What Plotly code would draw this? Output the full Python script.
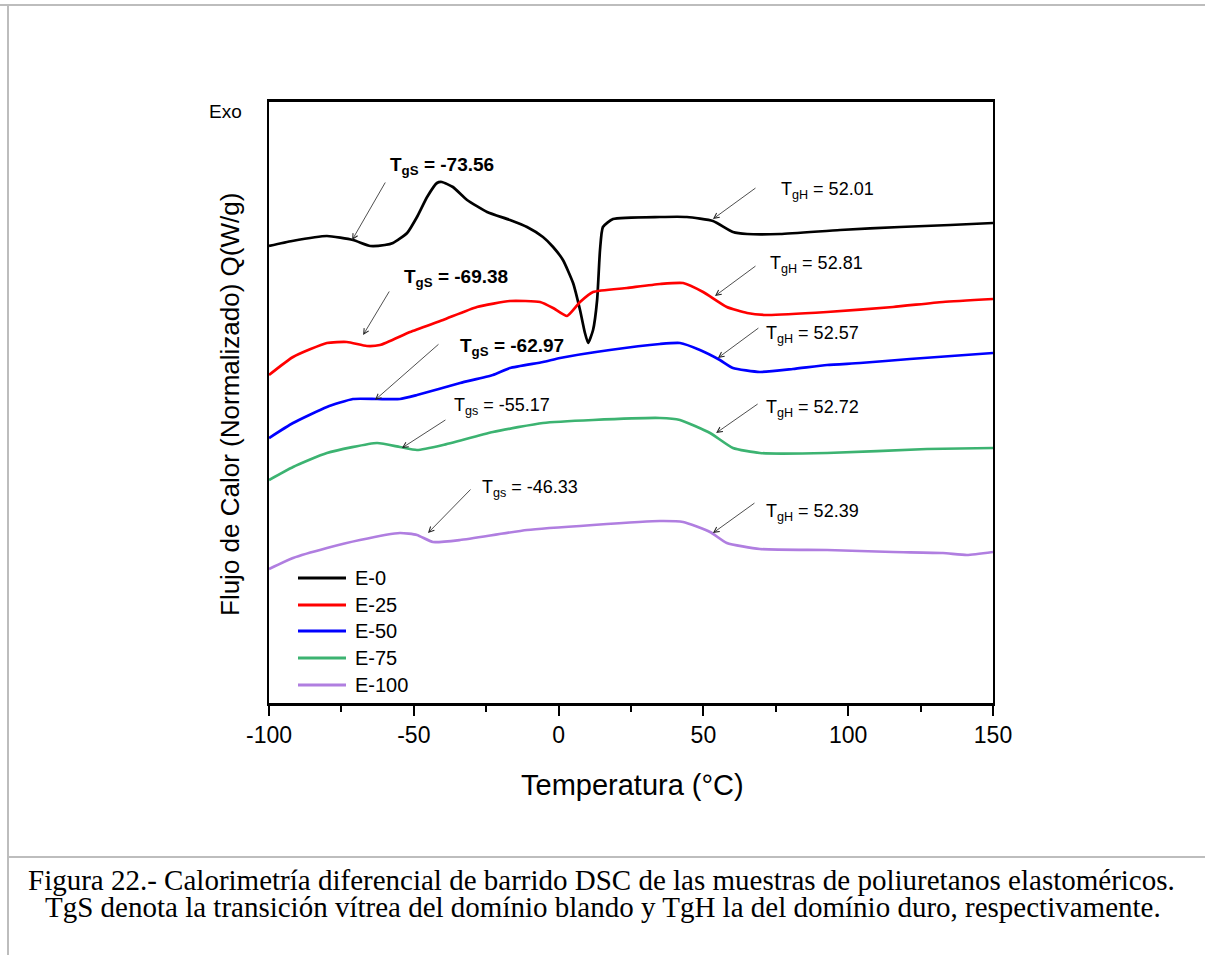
import plotly.graph_objects as go

# ---------------- data ----------------
series_names = ["E-0", "E-25", "E-50", "E-75", "E-100"]
series_colors = ["#000000", "#ff0000", "#0000ff", "#3cb371", "#b07ee0"]

T_E0 = [-100, -92, -80, -71, -65, -60, -57.2, -52.3, -48.9, -45.4, -42, -40.3, -36.5, -31.6,
        -24.7, -16.8, -10.9, -5.4, -1.9, 1.5, 5, 7.4, 9.1, 10.2, 11.9, 13.3, 14.3, 15.3, 18.8,
        35, 44.3, 53.3, 60.2, 65.1, 76.5, 97.2, 117.9, 135.2, 150]
Q_E0 = [457, 462, 467, 463, 457, 458, 460, 470, 486, 506, 520, 521, 516, 503,
        491, 483, 476, 466, 456, 443, 420, 393, 370, 360, 373, 403, 453, 476, 484,
        486, 486, 482, 471, 469, 469, 473, 476, 478, 480]

T_E25 = [-100, -91.7, -80, -73.1, -66.2, -61.7, -51.3, -39.9, -28.2, -16.8, -6.4, -1.9, 2.9,
         7.4, 11.9, 23.6, 35, 43, 49.9, 58.1, 65.1, 72, 92.7, 115.5, 132.7, 150]
Q_E25 = [328, 346, 360, 361, 357, 358, 371, 383, 396, 402, 401, 395, 387,
         401, 411, 415, 419, 420, 411, 396, 390, 388, 391, 396, 401, 404]

T_E50 = [-100, -91.7, -80, -71, -62.7, -54.8, -48.9, -34, -22.7, -16.8, -5.4, 0.5, 17.7, 35,
         41.9, 48.8, 55.7, 60.2, 69.5, 80.9, 92.7, 104.1, 121.3, 150]
Q_E50 = [265, 280, 296, 304, 304, 304, 308, 320, 328, 335, 341, 345, 353, 359,
         360, 353, 343, 335, 331, 334, 338, 340, 344, 350]

T_E75 = [-100, -91.7, -80, -62.7, -54.8, -48.9, -39.9, -22.7, -5.4, 11.9, 35, 41.9, 52.3,
         60.2, 69.5, 92.7, 127.2, 150]
Q_E75 = [223, 236, 250, 260, 256, 253, 258, 271, 280, 283, 285, 283, 270,
         255, 250, 250, 254, 255]

T_E100 = [-100, -91.7, -80, -68.6, -54.8, -48.9, -43.4, -34, -10.9, 11.9, 35, 43, 52.3, 58.1,
          69.5, 92.7, 115.5, 132.7, 141, 150]
Q_E100 = [134, 145, 155, 163, 170, 168, 161, 163, 173, 178, 182, 181, 171, 160,
          154, 153, 151, 150, 148, 151]

T_all = [T_E0, T_E25, T_E50, T_E75, T_E100]
Q_all = [Q_E0, Q_E25, Q_E50, Q_E75, Q_E100]

tgs_values = ["-73.56", "-69.38", "-62.97", "-55.17", "-46.33"]
tgh_values = ["52.01", "52.81", "52.57", "52.72", "52.39"]

x_ticks = [-100, -50, 0, 50, 100, 150]

# ---------------- figure ----------------
FONT = "Arial, 'Liberation Sans', sans-serif"
SERIF = "'Times New Roman', 'Liberation Serif', serif"

fig = go.Figure()
for name, color, T, Q in zip(series_names, series_colors, T_all, Q_all):
    fig.add_trace(go.Scatter(x=T, y=Q, mode="lines", name=name,
                             line=dict(color=color, width=2.7, shape="spline", smoothing=0.5),
                             showlegend=False, hoverinfo="skip"))

# plot area in pixels: left 269, right 993, top 102, bottom 703
L, R, TOP, BOT = 269, 993, 102, 703
def px(x):
    return (x - L) / (R - L)
def py(y):
    return (BOT - y) / (BOT - TOP)

annotations = []

# arrow annotations: (x tip, y tip, ax, ay)
tgs_arrows = [(-71.3, 463, 34, -59), (-67.5, 368, 27, -45), (-63.4, 303, 65, -57),
              (-54.1, 255, 45, -29), (-45.1, 170, 44, -45)]
tgh_arrows = [(53.3, 484, 44, -32), (54.0, 407, 42, -31), (55.0, 345, 42, -31),
              (54.4, 270, 43, -30), (53.3, 170, 43, -31)]
for (x, y, ax, ay) in tgs_arrows + tgh_arrows:
    annotations.append(dict(x=x, y=y, xref="x", yref="y", ax=ax, ay=ay, text="",
                            showarrow=True, arrowhead=5, arrowsize=1.3, arrowwidth=0.8,
                            arrowcolor="#222222"))

tgs_text_pos = [(-40.3, 537), (-35.4, 425), (-16.1, 356), (-19.5, 297), (-9.9, 215)]
for i, (val, (x, y)) in enumerate(zip(tgs_values, tgs_text_pos)):
    if i < 3:
        txt = "<b>T<sub>gS</sub> = " + val + "</b>"
        size = 19
    else:
        txt = "T<sub>gs</sub> = " + val
        size = 18
    annotations.append(dict(x=x, y=y, xref="x", yref="y", text=txt, showarrow=False,
                            xanchor="center", yanchor="middle",
                            font=dict(family=FONT, size=size, color="black")))

tgh_text_pos = [(92.7, 513), (89.2, 439), (87.5, 369), (87.5, 295), (87.5, 191)]
for val, (x, y) in zip(tgh_values, tgh_text_pos):
    annotations.append(dict(x=x, y=y, xref="x", yref="y",
                            text="T<sub>gH</sub> = " + val, showarrow=False,
                            xanchor="center", yanchor="middle",
                            font=dict(family=FONT, size=18, color="black")))

# manual legend
legend_y = [578, 605, 631, 658, 685]
shapes = []
for name, color, ly in zip(series_names, series_colors, legend_y):
    shapes.append(dict(type="line", xref="paper", yref="paper",
                       x0=px(298), x1=px(346), y0=py(ly), y1=py(ly),
                       line=dict(color=color, width=3)))
    annotations.append(dict(x=px(353), y=py(ly), xref="paper", yref="paper",
                            xanchor="left", yanchor="middle", text=name, showarrow=False,
                            font=dict(family=FONT, size=20, color="black")))

# axis titles and extra labels
annotations.append(dict(x=px(632), y=py(785), xref="paper", yref="paper",
                        xanchor="center", yanchor="middle",
                        text="Temperatura (°C)", showarrow=False,
                        font=dict(family=FONT, size=29, color="black")))
annotations.append(dict(x=px(230), y=py(405), xref="paper", yref="paper",
                        xanchor="center", yanchor="middle",
                        text="Flujo de Calor (Normalizado) Q(W/g)", textangle=-90,
                        showarrow=False, font=dict(family=FONT, size=26, color="black")))
annotations.append(dict(x=px(225), y=py(112), xref="paper", yref="paper",
                        xanchor="center", yanchor="middle",
                        text="Exo", showarrow=False,
                        font=dict(family=FONT, size=19, color="black")))

# caption
annotations.append(dict(x=px(601), y=py(880), xref="paper", yref="paper",
                        xanchor="center", yanchor="middle",
                        text="Figura 22.- Calorimetría diferencial de barrido DSC de las muestras de poliuretanos elastoméricos.",
                        showarrow=False, font=dict(family=SERIF, size=29, color="black")))
annotations.append(dict(x=px(603), y=py(907), xref="paper", yref="paper",
                        xanchor="center", yanchor="middle",
                        text="TgS denota la transición vítrea del domínio blando y TgH la del domínio duro, respectivamente.",
                        showarrow=False, font=dict(family=SERIF, size=29, color="black")))

# page frame lines
gray = "#bdbdbd"
shapes.append(dict(type="line", xref="paper", yref="paper", x0=px(0), x1=px(1205),
                   y0=py(5), y1=py(5), line=dict(color=gray, width=2)))
shapes.append(dict(type="line", xref="paper", yref="paper", x0=px(8), x1=px(8),
                   y0=py(5), y1=py(955), line=dict(color=gray, width=2)))
shapes.append(dict(type="line", xref="paper", yref="paper", x0=px(8), x1=px(1205),
                   y0=py(857), y1=py(857), line=dict(color=gray, width=2)))

fig.update_layout(
    width=1205, height=955,
    margin=dict(l=L, r=1205 - R, t=TOP, b=955 - BOT),
    paper_bgcolor="white", plot_bgcolor="white",
    showlegend=False,
    annotations=annotations,
    shapes=shapes,
    font=dict(family=FONT, color="black"),
    xaxis=dict(range=[-100, 150], tickvals=x_ticks, ticktext=[str(v) for v in x_ticks],
               ticks="outside", ticklen=10, tickwidth=2, tickcolor="black",
               tickfont=dict(family=FONT, size=23, color="black"),
               minor=dict(tickvals=[-75, -25, 25, 75, 125], ticks="outside", ticklen=6,
                          tickwidth=2, tickcolor="black"),
               showline=True, linewidth=2.5, linecolor="black", mirror=True,
               showgrid=False, zeroline=False),
    yaxis=dict(range=[0, 601], showticklabels=False, ticks="",
               showline=True, linewidth=2, linecolor="black", mirror=True,
               showgrid=False, zeroline=False),
)

fig.write_html("out.html", config={"displayModeBar": False},
               post_script="document.body.style.margin='0';document.body.style.overflow='hidden';")
